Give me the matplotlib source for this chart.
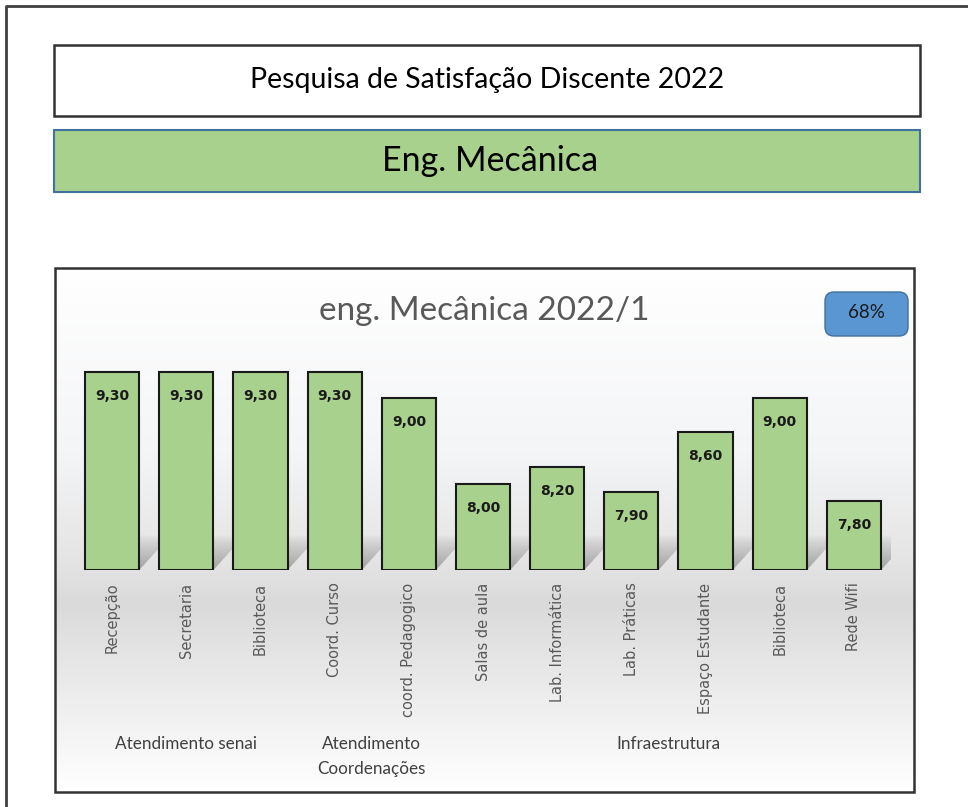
import numpy as np
import matplotlib.pyplot as plt
from matplotlib.patches import Rectangle, FancyBboxPatch, Polygon
from matplotlib import transforms
from matplotlib.colors import LinearSegmentedColormap

# dados
categorias = ['Recepção', 'Secretaria', 'Biblioteca', 'Coord. Curso', 'coord. Pedagogico',
              'Salas de aula', 'Lab. Informática', 'Lab. Práticas', 'Espaço Estudante',
              'Biblioteca', 'Rede Wifi']
notas = [9.30, 9.30, 9.30, 9.30, 9.00, 8.00, 8.20, 7.90, 8.60, 9.00, 7.80]
grupos = ['Atendimento senai', 'Atendimento\nCoordenações', 'Infraestrutura']
grupo_idx = [[0, 1, 2], [3, 4], [5, 6, 7, 8, 9, 10]]
titulo = 'Pesquisa de Satisfação Discente 2022'
curso = 'Eng. Mecânica'
titulo_graf = 'eng. Mecânica 2022/1'
participacao = '68%'

verde = '#A9D18E'
W, H = 968, 807

fig = plt.figure(figsize=(W / 100, H / 100), dpi=100)
bg = fig.add_axes([0, 0, 1, 1])
bg.set_xlim(0, W)
bg.set_ylim(H, 0)
bg.axis('off')

# moldura externa
bg.plot([6, 6, W], [H, 6, 6], color='#404040', lw=2)

# caixas do topo
bg.add_patch(Rectangle((54, 45), 866, 71, facecolor='white', edgecolor='#333333', lw=1.8))
bg.text(487, 80, titulo, ha='center', va='center', fontsize=20.5, family='Lato', color='black')
bg.add_patch(Rectangle((54, 130), 866, 62, facecolor=verde, edgecolor='#41719C', lw=1.5))
bg.text(490, 161, curso, ha='center', va='center', fontsize=24.5, family='Lato', color='black')

# area do grafico com gradiente
cmap = LinearSegmentedColormap.from_list('fundo', [
    (0.0, '#ffffff'), (0.35, '#f4f5f7'), (0.56, '#e4e4e4'), (0.64, '#dadada'),
    (0.8, '#ebebeb'), (1.0, '#ffffff')])
grad = np.linspace(0, 1, 256).reshape(-1, 1)
bg.imshow(grad, cmap=cmap, extent=(55, 914, 792, 268), aspect='auto', zorder=0)
bg.add_patch(Rectangle((55, 268), 859, 524, facecolor='none', edgecolor='#333333', lw=1.8, zorder=5))
bg.set_xlim(0, W)
bg.set_ylim(H, 0)

bg.text(484, 311, titulo_graf, ha='center', va='center', fontsize=24, family='Lato', color='#595959')
bg.add_patch(FancyBboxPatch((828, 295), 77, 38, boxstyle='round,pad=3,rounding_size=9',
                            facecolor='#5A96D2', edgecolor='#41719C', lw=1))
bg.text(866, 313, participacao, ha='center', va='center', fontsize=13.5, family='Lato', color='#1a1a1a')

# barras
ax = fig.add_axes([75 / W, (H - 570) / H, 816 / W, 224 / H])
ax.patch.set_alpha(0)
x = np.arange(len(notas))
larg = 0.73
ymin = 7.0

# sombra das barras
for i in x:
    xs = i + larg / 2
    for k in range(14):
        s = 1 - k / 14
        dx, dy = 0.42 * s, 0.40 * s
        poly = Polygon([(xs - larg, ymin), (xs, ymin), (xs + dx, ymin + dy),
                        (xs + dx - larg * 0.6, ymin + dy)],
                       closed=True, facecolor='#606060', edgecolor='none', alpha=0.04, zorder=1)
        ax.add_patch(poly)

ax.bar(x, [n - ymin for n in notas], bottom=ymin, width=larg, color=verde,
       edgecolor='#1a1a1a', linewidth=1.5, zorder=3)
for i, n in zip(x, notas):
    ax.annotate(f'{n:.2f}'.replace('.', ','), (i, n), xytext=(0, -17.3), textcoords='offset points',
                ha='center', va='center', fontsize=10, fontweight='bold', color='#1a1a1a', zorder=4)

ax.set_xlim(-0.5, len(notas) - 0.5)
ax.set_ylim(ymin, 9.6)
ax.set_xticks(x)
ax.set_xticklabels(categorias, rotation=90, fontsize=10.5, color='#595959', va='top')
ax.tick_params(axis='x', length=0, pad=9)
ax.set_yticks([])
for sp in ax.spines.values():
    sp.set_visible(False)

# rotulos dos grupos
tr = transforms.blended_transform_factory(ax.transData, bg.transData)
for nome, idx in zip(grupos, grupo_idx):
    ax.text(np.mean(idx), 736, nome, transform=tr, ha='center', va='top', fontsize=12.3,
            family='Lato', color='#404040', linespacing=1.7)

fig.savefig('out.png', dpi=100)
